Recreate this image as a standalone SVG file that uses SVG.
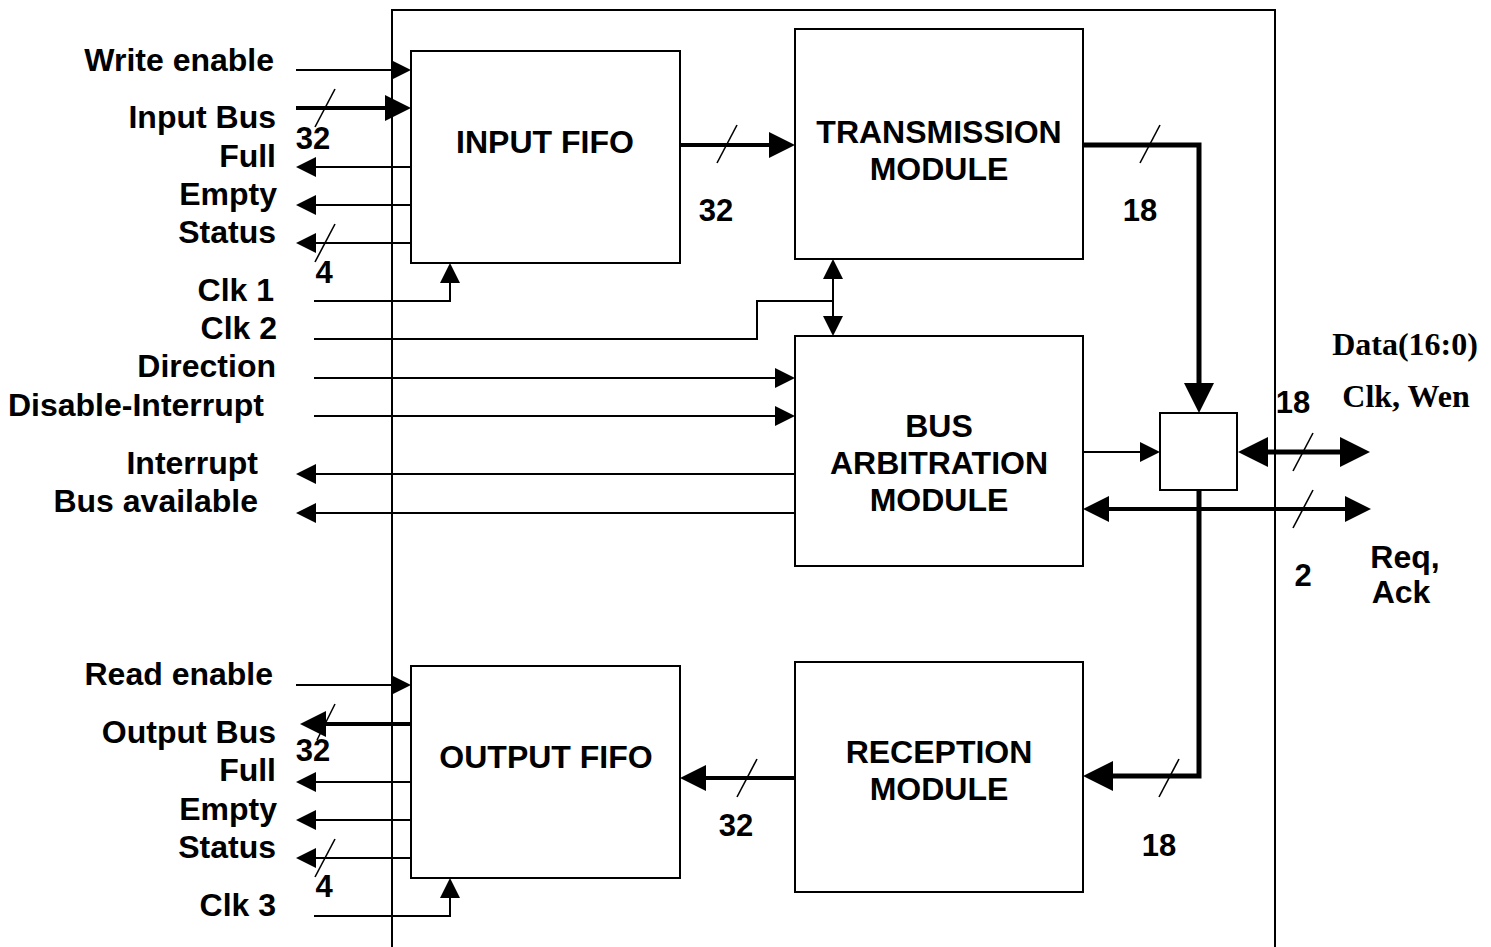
<svg xmlns="http://www.w3.org/2000/svg" width="1491" height="947" viewBox="0 0 1491 947">
<style>
text{font-family:"Liberation Sans",Arial,sans-serif;font-weight:bold;font-size:32px;fill:#000}
.l{text-anchor:end}
.m{text-anchor:middle}
.n{text-anchor:middle;font-size:31px}
.s{font-family:"Liberation Serif","Times New Roman",serif;font-size:32px;text-anchor:middle}
.box{fill:#fff;stroke:#000;stroke-width:2}
.w{fill:none;stroke:#000;stroke-width:2}
.k{fill:none;stroke:#000;stroke-width:4}
.kk{fill:none;stroke:#000;stroke-width:5}
.sl{stroke:#000;stroke-width:1.6}
</style>
<defs>
<marker id="a" markerUnits="userSpaceOnUse" markerWidth="20" markerHeight="20" refX="0" refY="10" orient="auto-start-reverse" overflow="visible"><path d="M0,0 L20,10 L0,20 z" fill="#000"/></marker>
<marker id="b" markerUnits="userSpaceOnUse" markerWidth="26" markerHeight="26" refX="0" refY="13" orient="auto-start-reverse" overflow="visible"><path d="M0,0 L26,13 L0,26 z" fill="#000"/></marker>
<marker id="c" markerUnits="userSpaceOnUse" markerWidth="30" markerHeight="30" refX="0" refY="15" orient="auto-start-reverse" overflow="visible"><path d="M0,0 L30,15 L0,30 z" fill="#000"/></marker>
</defs>
<rect width="1491" height="947" fill="#fff"/>
<g id="outer"><rect x="392" y="10" width="883" height="960" class="w"/></g>

<g id="connectors">
<path class="w" d="M296,70 H391" marker-end="url(#a)"/>
<path class="k" d="M296,108 H385" marker-end="url(#b)"/>
<path class="w" d="M411,167 H316" marker-end="url(#a)"/>
<path class="w" d="M411,205 H316" marker-end="url(#a)"/>
<path class="w" d="M411,243 H316" marker-end="url(#a)"/>
<path class="w" d="M314,301 H450 V283" marker-end="url(#a)"/>
<path class="w" d="M314,339 H757 V301 H833"/>
<path class="w" d="M833,301 V279" marker-end="url(#a)"/>
<path class="w" d="M833,301 V316" marker-end="url(#a)"/>
<path class="w" d="M314,378 H775" marker-end="url(#a)"/>
<path class="w" d="M314,416 H775" marker-end="url(#a)"/>
<path class="w" d="M795,474 H316" marker-end="url(#a)"/>
<path class="w" d="M795,513 H316" marker-end="url(#a)"/>
<path class="k" d="M680,145 H769" marker-end="url(#b)"/>
<path class="kk" d="M1083,145 H1199 V383" marker-end="url(#c)"/>
<path class="w" d="M1083,452 H1140" marker-end="url(#a)"/>
<path class="kk" d="M1268,452 H1340" marker-start="url(#c)" marker-end="url(#c)"/>
<path class="k" d="M1109,509 H1345" marker-start="url(#b)" marker-end="url(#b)"/>
<path class="kk" d="M1199,490 V776 H1113" marker-end="url(#c)"/>
<path class="k" d="M795,778 H706" marker-end="url(#b)"/>
<path class="w" d="M296,685 H391" marker-end="url(#a)"/>
<path class="k" d="M411,724 H326" marker-end="url(#b)"/>
<path class="w" d="M411,782 H316" marker-end="url(#a)"/>
<path class="w" d="M411,820 H316" marker-end="url(#a)"/>
<path class="w" d="M411,858 H316" marker-end="url(#a)"/>
<path class="w" d="M314,916 H450 V898" marker-end="url(#a)"/>
<line class="sl" x1="315" y1="127" x2="335" y2="89"/>
<line class="sl" x1="315" y1="262" x2="335" y2="224"/>
<line class="sl" x1="717" y1="163" x2="737" y2="125"/>
<line class="sl" x1="1140" y1="163" x2="1160" y2="125"/>
<line class="sl" x1="1293" y1="471" x2="1313" y2="433"/>
<line class="sl" x1="1293" y1="528" x2="1313" y2="490"/>
<line class="sl" x1="317" y1="740" x2="335" y2="704"/>
<line class="sl" x1="315" y1="877" x2="335" y2="839"/>
<line class="sl" x1="737" y1="797" x2="757" y2="759"/>
<line class="sl" x1="1159" y1="797" x2="1179" y2="759"/>
</g>

<g id="input-fifo"><rect class="box" x="411" y="51" width="269" height="212"/><text class="m" x="545" y="153">INPUT FIFO</text></g>
<g id="transmission"><rect class="box" x="795" y="29" width="288" height="230"/><text class="m" x="939" y="143">TRANSMISSION</text><text class="m" x="939" y="180">MODULE</text></g>
<g id="bus-arbitration"><rect class="box" x="795" y="336" width="288" height="230"/><text class="m" x="939" y="437">BUS</text><text class="m" x="939" y="474">ARBITRATION</text><text class="m" x="939" y="511">MODULE</text></g>
<g id="output-fifo"><rect class="box" x="411" y="666" width="269" height="212"/><text class="m" x="546" y="768">OUTPUT FIFO</text></g>
<g id="reception"><rect class="box" x="795" y="662" width="288" height="230"/><text class="m" x="939" y="763">RECEPTION</text><text class="m" x="939" y="800">MODULE</text></g>
<g id="mux"><rect class="box" x="1160" y="413" width="77" height="77"/></g>

<g id="labels">
<text class="l" x="274" y="71">Write enable</text>
<text class="l" x="276" y="128">Input Bus</text>
<text class="l" x="276" y="167">Full</text>
<text class="l" x="277" y="205">Empty</text>
<text class="l" x="276" y="243">Status</text>
<text class="l" x="274" y="301">Clk 1</text>
<text class="l" x="277" y="339">Clk 2</text>
<text class="l" x="276" y="377">Direction</text>
<text class="l" x="264" y="416">Disable-Interrupt</text>
<text class="l" x="258" y="474">Interrupt</text>
<text class="l" x="258" y="512">Bus available</text>
<text class="l" x="273" y="685">Read enable</text>
<text class="l" x="276" y="743">Output Bus</text>
<text class="l" x="276" y="781">Full</text>
<text class="l" x="277" y="820">Empty</text>
<text class="l" x="276" y="858">Status</text>
<text class="l" x="276" y="916">Clk 3</text>
<text class="n" x="313" y="149">32</text>
<text class="n" x="324" y="283">4</text>
<text class="n" x="716" y="221">32</text>
<text class="n" x="1140" y="221">18</text>
<text class="n" x="1293" y="413">18</text>
<text class="n" x="1303" y="586">2</text>
<text class="n" x="313" y="761">32</text>
<text class="n" x="324" y="897">4</text>
<text class="n" x="736" y="836">32</text>
<text class="n" x="1159" y="856">18</text>
<text class="m" x="1405" y="568">Req,</text>
<text class="m" x="1401" y="603">Ack</text>
<text class="s" x="1405" y="355">Data(16:0)</text>
<text class="s" x="1406" y="407">Clk, Wen</text>
</g>
</svg>
